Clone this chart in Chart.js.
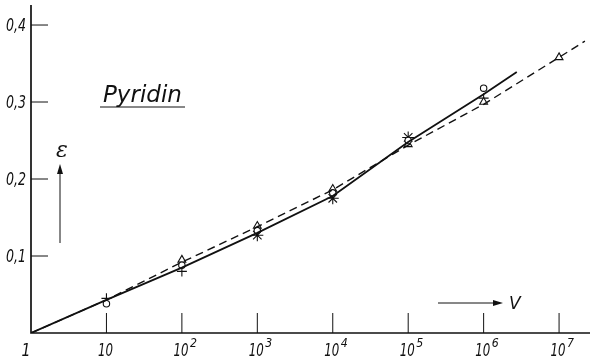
<!DOCTYPE html>
<html>
<head>
<meta charset="utf-8">
<script src="https://cdn.jsdelivr.net/npm/chart.js@4/dist/chart.umd.min.js"></script>
<style>
  html, body { margin: 0; padding: 0; background: #fff; }
  #wrap { width: 593px; height: 364px; }
</style>
</head>
<body>
<div id="wrap"><canvas id="grafico" width="593" height="364"></canvas></div>
<script>
// valores (V en escala log, epsilon lineal)
const ticksX = [1, 10, 1e2, 1e3, 1e4, 1e5, 1e6, 1e7];
const etiquetasX = [["1", ""], ["10", ""], ["10", "2"], ["10", "3"], ["10", "4"], ["10", "5"], ["10", "6"], ["10", "7"]];
const ticksY = [0.1, 0.2, 0.3, 0.4];
const etiquetasY = ["0,1", "0,2", "0,3", "0,4"];

const curvaSolida = [[1, 0], [10, 0.043], [100, 0.085], [1e3, 0.130], [1e4, 0.178], [1e5, 0.248], [1e6, 0.31], [2.75e6, 0.339]];
const curvaTrazos = [[1, 0], [10, 0.043], [100, 0.092], [1e3, 0.138], [1e4, 0.186], [1e5, 0.244], [1e6, 0.297], [1e7, 0.358], [2.2e7, 0.379]];
const puntosCirculo = [[10, 0.038], [100, 0.088], [1e3, 0.133], [1e4, 0.182], [1e5, 0.25], [1e6, 0.318]];
const puntosTriangulo = [[100, 0.095], [1e3, 0.139], [1e4, 0.187], [1e5, 0.245], [1e6, 0.30], [1e7, 0.358]];
const puntosCruz = [[10, 0.045], [100, 0.080], [1e6, 0.305]];
const puntosEstrella = [[1e3, 0.127], [1e4, 0.175], [1e5, 0.254]];

const familia = "'DejaVu Sans', sans-serif";

function aPuntos(lista) {
  return lista.map(([x, y]) => ({ x, y }));
}

function serieLinea(lista, trazos) {
  return {
    type: "line",
    data: aPuntos(lista),
    borderColor: "#111",
    borderWidth: trazos ? 1.4 : 1.8,
    borderDash: trazos ? [8, 5] : [],
    pointRadius: 0,
    fill: false,
    tension: 0
  };
}

function seriePuntos(lista, estilo, radio) {
  return {
    type: "scatter",
    data: aPuntos(lista),
    pointStyle: estilo,
    pointRadius: radio,
    borderColor: "#111",
    backgroundColor: "#fff",
    borderWidth: 1.1
  };
}

function texto(ctx, cadena, x, y, tam, ancho) {
  ctx.font = "italic " + tam + "px " + familia;
  const real = ctx.measureText(cadena).width;
  ctx.fillText(cadena, x, y, Math.min(real, ancho));
}

const ejesPlugin = {
  id: "ejes",
  afterDraw(chart) {
    const ctx = chart.ctx;
    const sx = chart.scales.x;
    const sy = chart.scales.y;
    const x0 = sx.getPixelForValue(1);
    const y0 = sy.getPixelForValue(0);
    ctx.save();
    ctx.strokeStyle = "#111";
    ctx.fillStyle = "#111";
    ctx.lineWidth = 1.7;
    // ejes
    ctx.beginPath();
    ctx.moveTo(x0, sy.getPixelForValue(0.426));
    ctx.lineTo(x0, y0);
    ctx.lineTo(sx.getPixelForValue(Math.pow(10, 7.41)), y0);
    ctx.stroke();

    // marcas y etiquetas del eje x
    ctx.lineWidth = 1;
    ticksX.forEach((v, i) => {
      const px = sx.getPixelForValue(v);
      if (i > 0) {
        ctx.beginPath();
        ctx.moveTo(px, y0);
        ctx.lineTo(px, y0 - 20);
        ctx.stroke();
      }
      const [base, exp] = etiquetasX[i];
      ctx.textAlign = "center";
      ctx.textBaseline = "alphabetic";
      texto(ctx, base, i === 0 ? px - 5 : px - 1, y0 + 23, 18, base.length === 1 ? 9 : 15);
      if (exp) {
        ctx.textAlign = "left";
        texto(ctx, exp, px + 8, y0 + 14, 13, 7);
      }
    });

    // marcas y etiquetas del eje y
    ticksY.forEach((v, i) => {
      const py = sy.getPixelForValue(v);
      ctx.beginPath();
      ctx.moveTo(x0, py);
      ctx.lineTo(x0 + 17, py);
      ctx.stroke();
      ctx.textAlign = "right";
      ctx.textBaseline = "alphabetic";
      texto(ctx, etiquetasY[i], x0 - 5, py + 6, 17, 20);
    });

    // titulo Pyridin subrayado
    ctx.textAlign = "left";
    ctx.textBaseline = "alphabetic";
    texto(ctx, "Pyridin", 103, 102, 23, 80);
    ctx.beginPath();
    ctx.moveTo(100, 107);
    ctx.lineTo(185, 107);
    ctx.stroke();

    // epsilon con flecha
    ctx.font = "italic 22px 'DejaVu Serif', serif";
    ctx.textAlign = "center";
    ctx.fillText("\u03B5", 62, 157);
    ctx.beginPath();
    ctx.moveTo(60, 243);
    ctx.lineTo(60, 168);
    ctx.stroke();
    ctx.beginPath();
    ctx.moveTo(60, 164);
    ctx.lineTo(57, 174);
    ctx.lineTo(63, 174);
    ctx.closePath();
    ctx.fill();

    // flecha V
    ctx.beginPath();
    ctx.moveTo(438, 303);
    ctx.lineTo(498, 303);
    ctx.stroke();
    ctx.beginPath();
    ctx.moveTo(503, 303);
    ctx.lineTo(493, 300);
    ctx.lineTo(493, 306);
    ctx.closePath();
    ctx.fill();
    ctx.textAlign = "left";
    texto(ctx, "V", 509, 309, 17, 12);
    ctx.restore();
  }
};

new Chart(document.getElementById("grafico"), {
  data: {
    datasets: [
      serieLinea(curvaSolida, false),
      serieLinea(curvaTrazos, true),
      seriePuntos(puntosCirculo, "circle", 3.2),
      seriePuntos(puntosTriangulo, "triangle", 4.5),
      seriePuntos(puntosCruz, "cross", 5),
      seriePuntos(puntosEstrella, "star", 6)
    ]
  },
  options: {
    responsive: false,
    animation: false,
    layout: { autoPadding: false, padding: { left: 31, right: 3, top: 5, bottom: 31 } },
    plugins: { legend: { display: false }, tooltip: { enabled: false } },
    scales: {
      x: { type: "logarithmic", min: 1, max: Math.pow(10, 7.41), display: false },
      y: { type: "linear", min: 0, max: 0.426, display: false }
    }
  },
  plugins: [ejesPlugin]
});
</script>
</body>
</html>
